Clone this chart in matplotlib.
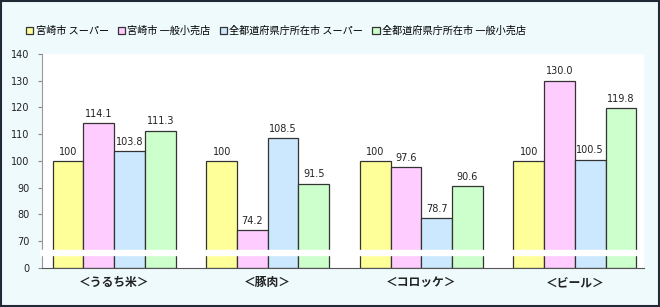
import numpy as np
import matplotlib.pyplot as plt
from matplotlib.patches import Rectangle

plt.rcParams['font.family'] = ['Noto Sans CJK JP', 'DejaVu Sans']

# データ
categories = ['＜うるち米＞', '＜豚肉＞', '＜コロッケ＞', '＜ビール＞']
series_names = ['宮崎市 スーパー', '宮崎市 一般小売店', '全都道府県庁所在市 スーパー', '全都道府県庁所在市 一般小売店']
miyazaki_super = [100, 100, 100, 100]
miyazaki_shop = [114.1, 74.2, 97.6, 130.0]
all_super = [103.8, 108.5, 78.7, 100.5]
all_shop = [111.3, 91.5, 90.6, 119.8]
value_labels = [
    ['100', '100', '100', '100'],
    ['114.1', '74.2', '97.6', '130.0'],
    ['103.8', '108.5', '78.7', '100.5'],
    ['111.3', '91.5', '90.6', '119.8'],
]
y_ticks = [60, 70, 80, 90, 100, 110, 120, 130, 140]
y_tick_labels = ['0', '70', '80', '90', '100', '110', '120', '130', '140']

colors = ['#FFFF99', '#FFCCFF', '#CCE8FF', '#CCFFCC']
base = 60  # 0 の位置(省略軸)

fig = plt.figure(figsize=(6.6, 3.07), dpi=100)
fig.patch.set_facecolor('#EFFAFC')
fig.patches.append(Rectangle((0.0015, 0.003), 0.997, 0.994, transform=fig.transFigure,
                             fill=False, edgecolor='#1F2A36', linewidth=1.5))

ax = fig.add_axes([42 / 660, 1 - 268 / 307, (644 - 42) / 660, (268 - 54) / 307])
ax.set_facecolor('white')

x = np.arange(len(categories))
w = 0.2
all_series = [miyazaki_super, miyazaki_shop, all_super, all_shop]
for i, vals in enumerate(all_series):
    pos = x + (i - 1.5) * w
    heights = [v - base for v in vals]
    ax.bar(pos, heights, w, bottom=base, color=colors[i], edgecolor='#333333',
           linewidth=0.9, label=series_names[i], zorder=2)
    for p, v, t in zip(pos, vals, value_labels[i]):
        ax.text(p, v + 1.6, t, ha='center', va='bottom', fontsize=7,
                family='DejaVu Sans', color='#222222')

ax.set_xlim(-0.47, 3.45)
ax.set_ylim(60, 140)
ax.set_yticks(y_ticks)
ax.set_yticklabels(y_tick_labels, fontsize=7, family='DejaVu Sans', color='#222222')
ax.tick_params(axis='y', length=3, color='#888888', pad=6)
ax.set_xticks(x)
ax.set_xticklabels(categories, fontsize=8.5, fontweight='bold', color='#222222')
ax.tick_params(axis='x', length=0, pad=6)

for s in ['top', 'right']:
    ax.spines[s].set_visible(False)
ax.spines['left'].set_color('#999999')
ax.spines['bottom'].set_color('#555555')

# 省略の白帯
ax.axhspan(64.8, 66.6, xmin=-0.003, xmax=0.988, color='white', zorder=5, clip_on=False)

leg = fig.legend(loc='center', bbox_to_anchor=(276 / 660, 1 - 31 / 307), ncol=4,
                 frameon=False, fontsize=7.3, handlelength=0.7, handleheight=0.7,
                 handletextpad=0.25, columnspacing=0.9)

fig.savefig('out.png', dpi=100, facecolor=fig.get_facecolor())
